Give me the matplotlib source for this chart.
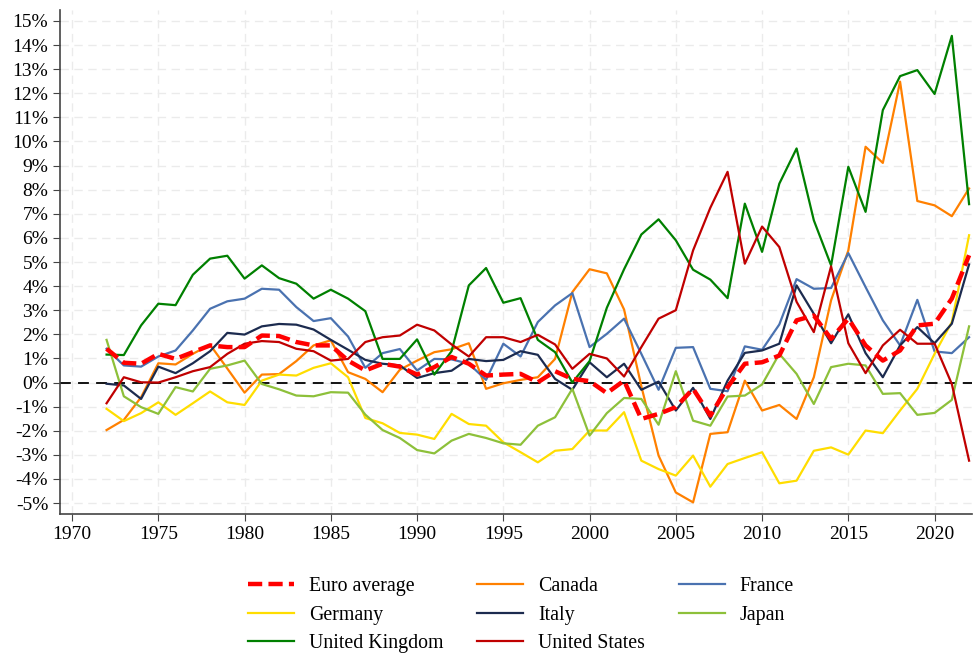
import matplotlib
matplotlib.use("Agg")
from matplotlib import pyplot as plt
from matplotlib.ticker import FuncFormatter, MultipleLocator

plt.rcParams['font.family'] = ['Liberation Serif', 'DejaVu Serif']

years = list(range(1972, 2023))

euro = [1.40, 0.82, 0.78, 1.19, 0.98, 1.26, 1.54, 1.47, 1.47, 1.95,
        1.93, 1.68, 1.54, 1.54, 0.91, 0.50, 0.78, 0.66, 0.33, 0.64,
        1.06, 0.78, 0.29, 0.33, 0.36, 0.01, 0.47, 0.15, 0.06, -0.44,
        0.08, -1.51, -1.30, -1.02, -0.26, -1.37, -0.19, 0.78, 0.84, 1.12,
        2.58, 2.78, 1.81, 2.65, 1.54, 0.91, 1.33, 2.37, 2.44, 3.48, 5.28]
canada = [-1.97, -1.55, -0.61, 0.80, 0.75, 1.19, 1.57, 0.58, -0.42, 0.33,
          0.35, 0.89, 1.54, 1.75, 0.43, 0.15, -0.40, 0.53, 0.91, 1.26,
          1.38, 1.63, -0.26, -0.03, 0.11, 0.22, 0.98, 3.75, 4.70, 4.53,
          3.03, -0.15, -3.03, -4.56, -4.97, -2.13, -2.06, 0.08, -1.16, -0.93,
          -1.51, 0.22, 3.41, 5.48, 9.78, 9.11, 12.48, 7.53, 7.35, 6.90, 8.05]
france = [1.40, 0.71, 0.66, 1.08, 1.33, 2.16, 3.06, 3.37, 3.48, 3.89,
          3.85, 3.13, 2.55, 2.67, 1.91, 0.61, 1.22, 1.39, 0.50, 0.98,
          0.96, 0.78, 0.11, 1.61, 1.08, 2.51, 3.20, 3.71, 1.47, 2.02,
          2.65, 1.19, -0.30, 1.44, 1.47, -0.26, -0.36, 1.50, 1.36, 2.41,
          4.29, 3.89, 3.92, 5.37, 3.96, 2.58, 1.54, 3.43, 1.29, 1.22, 1.88]
germany = [-1.09, -1.60, -1.27, -0.82, -1.34, -0.86, -0.37, -0.82, -0.93, 0.08,
           0.33, 0.29, 0.61, 0.80, 0.22, -1.47, -1.69, -2.09, -2.16, -2.34,
           -1.30, -1.72, -1.79, -2.48, -2.89, -3.31, -2.83, -2.76, -1.99, -1.99,
           -1.23, -3.24, -3.59, -3.86, -3.03, -4.32, -3.38, -3.13, -2.89, -4.18,
           -4.07, -2.83, -2.69, -2.99, -1.99, -2.10, -1.16, -0.26, 1.19, 2.51, 6.11]
italy = [-0.05, -0.12, -0.68, 0.66, 0.39, 0.80, 1.30, 2.06, 1.99, 2.33,
         2.43, 2.40, 2.20, 1.77, 1.36, 0.94, 0.78, 0.71, 0.19, 0.39,
         0.49, 0.98, 0.89, 0.94, 1.30, 1.15, 0.15, -0.30, 0.84, 0.22,
         0.78, -0.30, 0.04, -1.16, -0.22, -1.51, 0.08, 1.23, 1.33, 1.61,
         4.03, 2.85, 1.63, 2.83, 1.22, 0.22, 1.54, 2.30, 1.63, 2.44, 4.90]
japan = [1.77, -0.57, -1.02, -1.30, -0.19, -0.37, 0.57, 0.71, 0.91, -0.06,
         -0.28, -0.54, -0.57, -0.40, -0.42, -1.33, -1.97, -2.30, -2.80, -2.94,
         -2.41, -2.13, -2.30, -2.52, -2.58, -1.79, -1.44, -0.26, -2.20, -1.27,
         -0.64, -0.68, -1.75, 0.47, -1.58, -1.79, -0.58, -0.54, -0.08, 1.19,
         0.36, -0.89, 0.64, 0.78, 0.71, -0.47, -0.44, -1.34, -1.26, -0.72, 2.33]
uk = [1.16, 1.14, 2.37, 3.27, 3.21, 4.47, 5.14, 5.26, 4.31, 4.86,
      4.33, 4.10, 3.48, 3.85, 3.48, 2.96, 0.98, 0.98, 1.79, 0.33,
      1.30, 4.03, 4.75, 3.31, 3.50, 1.77, 1.26, 0.00, 0.89, 3.10,
      4.70, 6.14, 6.77, 5.90, 4.68, 4.27, 3.50, 7.42, 5.42, 8.25,
      9.71, 6.73, 4.86, 8.95, 7.08, 11.30, 12.71, 12.96, 11.97, 14.38, 7.40]
us = [-0.86, 0.22, 0.01, 0.00, 0.22, 0.47, 0.64, 1.19, 1.61, 1.72,
      1.68, 1.40, 1.30, 0.91, 0.98, 1.68, 1.88, 1.95, 2.40, 2.16,
      1.58, 1.08, 1.88, 1.88, 1.68, 1.98, 1.58, 0.57, 1.19, 1.00,
      0.25, 1.47, 2.65, 3.00, 5.48, 7.25, 8.74, 4.93, 6.47, 5.62,
      3.35, 2.09, 4.82, 1.63, 0.39, 1.54, 2.19, 1.61, 1.61, -0.06, -3.24]

fig = plt.figure(figsize=(9.74, 6.55), dpi=100)
ax = fig.add_axes([0.0616, 0.215, 0.936, 0.77])

ax.axhline(0, color='black', lw=1.3, ls=(0, (6, 4)), zorder=1)

lines = {}
lines['Canada'], = ax.plot(years, canada, color='#FF8000', lw=1.6, label='Canada')
lines['France'], = ax.plot(years, france, color='#4A72B0', lw=1.6, label='France')
lines['Germany'], = ax.plot(years, germany, color='#FFDD00', lw=1.6, label='Germany')
lines['Italy'], = ax.plot(years, italy, color='#1C2B4F', lw=1.6, label='Italy')
lines['Japan'], = ax.plot(years, japan, color='#8DC03A', lw=1.6, label='Japan')
lines['United Kingdom'], = ax.plot(years, uk, color='#008000', lw=1.6, label='United Kingdom')
lines['United States'], = ax.plot(years, us, color='#C00000', lw=1.6, label='United States')
lines['Euro average'], = ax.plot(years, euro, color='#FF0000', lw=3.2, ls=(0, (3.2, 1.4)), label='Euro average', zorder=5)

ax.set_xlim(1969.3, 2022.15)
ax.set_ylim(-5.46, 15.46)
ax.xaxis.set_major_locator(MultipleLocator(5))
ax.yaxis.set_major_locator(MultipleLocator(1))
ax.yaxis.set_major_formatter(FuncFormatter(lambda v, p: "%d%%" % round(v)))
ax.grid(True, color='#ebebeb', ls=(0, (6, 4)), lw=1)
ax.set_axisbelow(True)
for s in ['top', 'right']:
    ax.spines[s].set_visible(False)
for s in ['left', 'bottom']:
    ax.spines[s].set_color('#444444')
    ax.spines[s].set_linewidth(1.2)
ax.tick_params(labelsize=14, length=5, color='#444444')

order = ['Euro average', 'Germany', 'United Kingdom', 'Canada', 'Italy',
         'United States', 'France', 'Japan']
fig.legend([lines[k] for k in order], order, loc='upper center',
           bbox_to_anchor=(0.535, 0.146), ncol=3, frameon=False, fontsize=14.3,
           handlelength=2.3, handletextpad=0.77, columnspacing=1.7,
           labelspacing=0.48)

fig.savefig("out.png", dpi=100)
